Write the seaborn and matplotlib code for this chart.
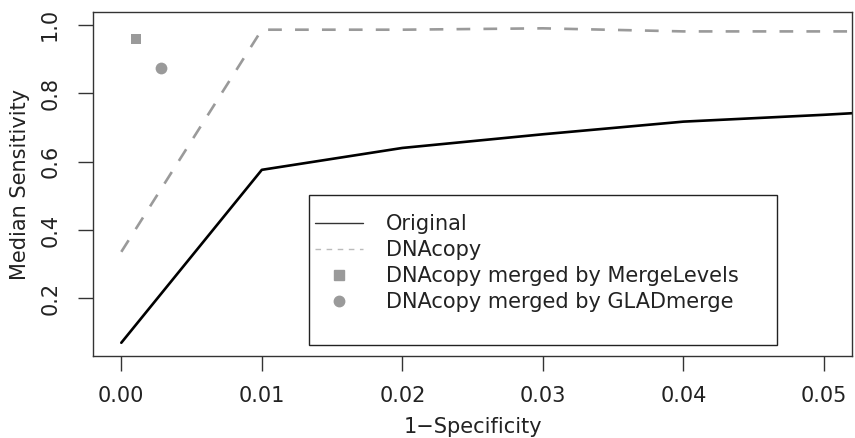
import matplotlib
matplotlib.use("Agg")
import matplotlib.pyplot as plt
import seaborn as sns
import pandas as pd
from matplotlib.lines import Line2D
from matplotlib.patches import Rectangle

# Data
fpr = [0.00, 0.01, 0.02, 0.03, 0.04, 0.05, 0.06]
sens_original = [0.070, 0.576, 0.640, 0.680, 0.717, 0.737, 0.760]
sens_dnacopy = [0.336, 0.986, 0.986, 0.990, 0.981, 0.981, 0.981]
mergelevels_x = [0.00106]
mergelevels_y = [0.959]
gladmerge_x = [0.0028]
gladmerge_y = [0.875]
labels = ["Original", "DNAcopy", "DNAcopy merged by MergeLevels", "DNAcopy merged by GLADmerge"]
xticks = [0.00, 0.01, 0.02, 0.03, 0.04, 0.05]
xticklabels = ["0.00", "0.01", "0.02", "0.03", "0.04", "0.05"]
yticks = [0.2, 0.4, 0.6, 0.8, 1.0]
yticklabels = ["0.2", "0.4", "0.6", "0.8", "1.0"]

sns.set_style("white")
plt.rcParams['font.family'] = ['DejaVu Sans']

FS = 15
gray = "#9a9a9a"
txt = "#222222"
fig = plt.figure(figsize=(8.55, 4.38), dpi=100)
ax = fig.add_axes([0.109, 0.187, 0.9965 - 0.109, 0.972 - 0.187])

df_o = pd.DataFrame({"x": fpr, "y": sens_original})
df_d = pd.DataFrame({"x": fpr, "y": sens_dnacopy})
sns.lineplot(data=df_o, x="x", y="y", ax=ax, color="black", linewidth=1.9)
sns.lineplot(data=df_d, x="x", y="y", ax=ax, color=gray, linewidth=1.9)
ax.lines[-1].set_dashes((5.2, 5.0))
sns.scatterplot(x=mergelevels_x, y=mergelevels_y, ax=ax, marker="s", s=62, color=gray, linewidth=0)
sns.scatterplot(x=gladmerge_x, y=gladmerge_y, ax=ax, marker="o", s=72, color=gray, linewidth=0)

ax.set_xlim(-0.002, 0.052)
ax.set_ylim(0.031, 1.037)
ax.set_xticks(xticks)
ax.set_xticklabels(xticklabels)
ax.set_yticks(yticks)
ax.set_yticklabels(yticklabels, rotation=90, va="center")
ax.tick_params(axis="both", direction="out", length=10.8, width=1, color="#333333",
               labelsize=FS, labelcolor=txt, bottom=True, left=True)
ax.tick_params(axis="x", pad=11)
ax.tick_params(axis="y", pad=13)
for sp in ax.spines.values():
    sp.set_visible(True)
    sp.set_color("#333333")
    sp.set_linewidth(1.0)
ax.set_xlabel("1\u2212Specificity", fontsize=FS, color=txt, labelpad=8)
ax.set_ylabel("Median Sensitivity", fontsize=FS, color=txt, labelpad=7)

# legend frame (R-style, extra space at bottom)
ax.add_patch(Rectangle((0.284, 0.032), 0.617, 0.436, transform=ax.transAxes,
                       fill=True, facecolor="white", edgecolor=txt, linewidth=1.0, zorder=4))
handles = [
    Line2D([], [], color="#333333", lw=1.0),
    Line2D([], [], color="#bbbbbb", lw=1.0, dashes=(4, 4)),
    Line2D([], [], color=gray, lw=0, marker="s", markersize=7),
    Line2D([], [], color=gray, lw=0, marker="o", markersize=7.5),
]
leg = ax.legend(handles, labels, loc="upper left", bbox_to_anchor=(0.292, 0.413),
                borderaxespad=0, borderpad=0, fontsize=FS, frameon=False,
                handlelength=2.3, handletextpad=1.1, labelspacing=0.29,
                labelcolor=txt)
leg.set_zorder(5)

fig.savefig("out.png", dpi=100, facecolor="white")
